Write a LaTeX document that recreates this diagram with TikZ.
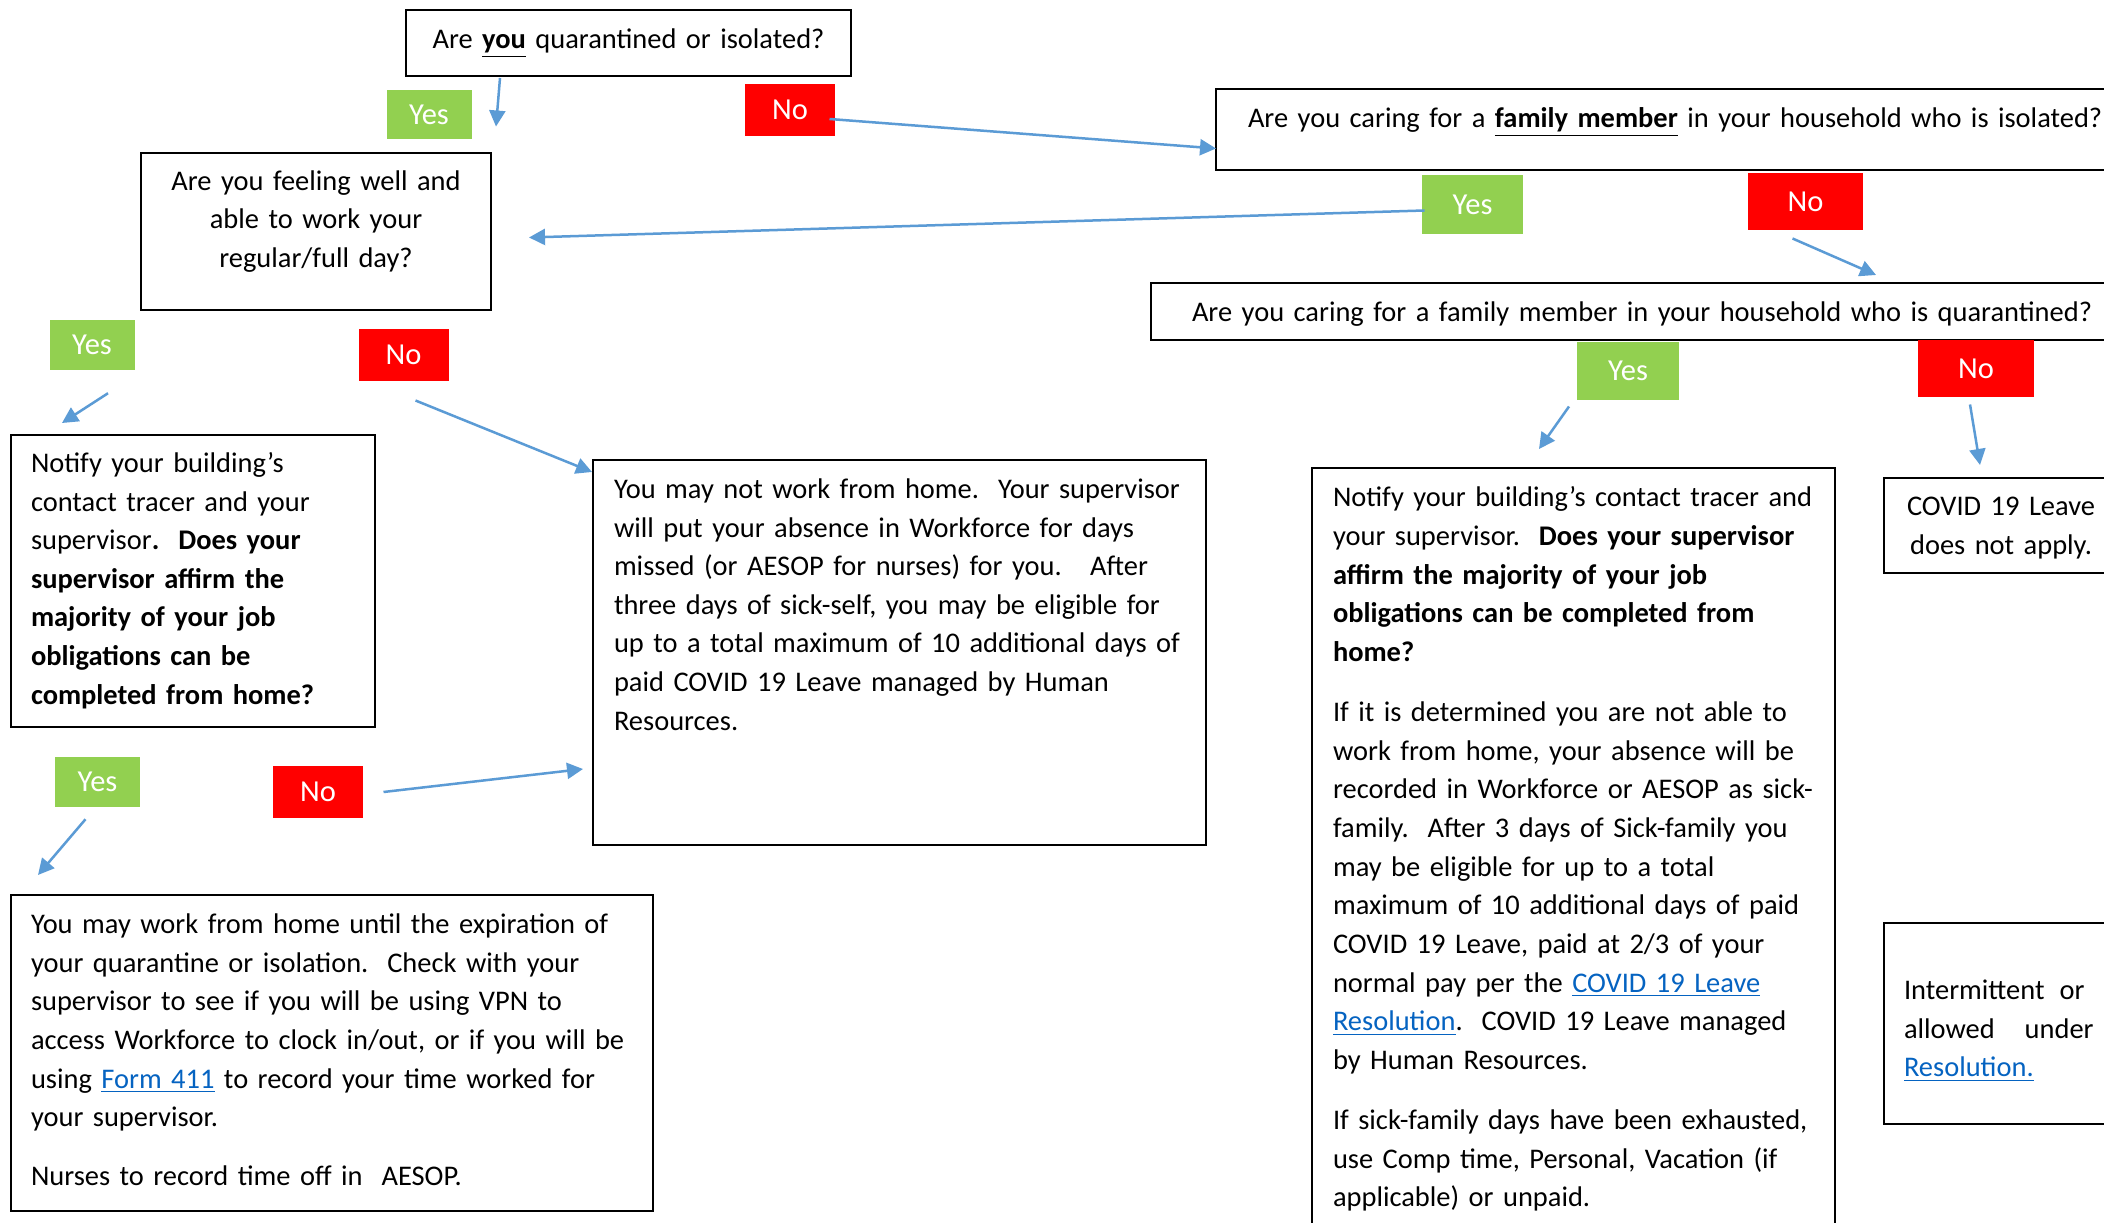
\documentclass[tikz,border=0pt]{standalone}
\usepackage{fontspec}
\setmainfont{Carlito}
\usepackage{xcolor}
\usetikzlibrary{positioning, arrows.meta, calc}
\definecolor{yesgreen}{HTML}{92D050}
\definecolor{nored}{HTML}{FF0000}
\definecolor{arrowblue}{HTML}{5B9BD5}
\definecolor{linkblue}{HTML}{0563C1}
\newcommand{\weblink}[1]{\textcolor{linkblue}{\underline{#1}}}
\frenchspacing

\begin{document}
\begin{tikzpicture}[x=0.4pt, y=-0.4pt,
    qbox/.style={draw, line width=0.8pt, anchor=north west, inner ysep=0pt, align=left,
        font=\fontsize{11.38}{15.45}\selectfont},
    textbox/.style={qbox, execute at begin node={\rightskip=0pt plus 1fill minus 30pt}},
    answer/.style={text=white, inner sep=0pt, font=\fontsize{12.2}{14}\selectfont},
    yeslabel/.style={answer, fill=yesgreen, minimum width=34pt, minimum height=19.8pt},
    nolabel/.style={answer, fill=nored, minimum width=36pt, minimum height=20.8pt},
    arr/.style={draw=arrowblue, line width=1pt, -{Triangle[length=6.4pt, width=6.4pt]}}]
    \useasboundingbox (0,0) rectangle (2104,1223);
    \clip (0,0) rectangle (2104,1223);
    \fill[white] (0,0) rectangle (2104,1223);

    % questions
    \node[qbox, align=center, inner xsep=0pt, text width=178pt, text height=15.6pt, text depth=10.8pt] (you) at (405,9) {Are \underline{\textbf{you}} quarantined or isolated?};
    \node[qbox, inner xsep=12.8pt, text width=348.4pt, text height=15.6pt, text depth=16.8pt] (iso) at (1215,88) {Are you caring for a \underline{\textbf{family member}} in your household who is isolated?};
    \node[qbox, align=center, inner xsep=0pt, text width=140pt, text height=14.9pt, text depth=47.9pt] (well) at (140,152) {Are you feeling well and\\ able to work your\\ regular/full day?};
    \node[qbox, inner xsep=16.4pt, text width=367.2pt, text height=15.4pt, text depth=7.4pt] (quar) at (1150,282) {Are you caring for a family member in your household who is quarantined?};

    % outcomes
    \node[textbox, inner xsep=8pt, text width=129.6pt, text height=15pt, text depth=101.8pt] (notify) at (10,434) {Notify your building’s\\ contact tracer and your\\ supervisor\textbf{.~ Does your}\\ \textbf{supervisor affirm the}\\ \textbf{majority of your job}\\ \textbf{obligations can be}\\ \textbf{completed from home?}};
    \node[textbox, inner xsep=8.4pt, text width=228.4pt, text height=15.4pt, text depth=138.6pt] (nowork) at (592,459) {You may not work from home.~ Your supervisor\\ will put your absence in Workforce for days\\ missed (or AESOP for nurses) for you.~~ After\\ three days of sick-self, you may be eligible for\\ up to a total maximum of 10 additional days of\\ paid COVID 19 Leave managed by Human\\ Resources.};
    \node[textbox, inner xsep=8pt, text width=240.8pt, text height=15.4pt, text depth=111pt] (workhome) at (10,894) {You may work from home until the expiration of\\ your quarantine or isolation.~ Check with your\\ supervisor to see if you will be using VPN to\\ access Workforce to clock in/out, or if you will be\\ using \weblink{Form 411} to record your time worked for\\ your supervisor.\\[8.2pt] Nurses to record time off in~ AESOP.};
    \node[textbox, inner xsep=8.4pt, text width=192.4pt, text height=15.6pt, text depth=293.6pt] (notifyfam) at (1311,467) {Notify your building’s contact tracer and\\ your supervisor.~ \textbf{Does your supervisor}\\ \textbf{affirm the majority of your job}\\ \textbf{obligations can be completed from}\\ \textbf{home?}\\[8.6pt] If it is determined you are not able to\\ work from home, your absence will be\\ recorded in Workforce or AESOP as sick-\\ family.~ After 3 days of Sick-family you\\ may be eligible for up to a total\\ maximum of 10 additional days of paid\\ COVID 19 Leave, paid at 2/3 of your\\ normal pay per the \weblink{COVID 19 Leave}\\ \weblink{Resolution}.~ COVID 19 Leave managed\\ by Human Resources.\\[8.6pt] If sick-family days have been exhausted,\\ use Comp time, Personal, Vacation (if\\ applicable) or unpaid.};
    \node[qbox, align=center, inner xsep=0pt, text width=93.6pt, text height=15pt, text depth=23pt] (noleave) at (1883,477) {COVID 19 Leave\\ does not apply.};
    \node[qbox, inner xsep=8pt, text width=130.8pt, text height=30.6pt, text depth=49.8pt] (intermit) at (1883,922) {Intermittent\hspace*{6pt}or\\ allowed\hspace*{12pt}under\\ \weblink{Resolution.}};

    % answers
    \node[yeslabel] (yesyou) at (429,114.5) {Yes};
    \node[nolabel] (noyou) at (790,110) {No};
    \node[yeslabel, minimum width=40.4pt, minimum height=23.6pt] (yesiso) at (1472.5,204.5) {Yes};
    \node[nolabel, minimum width=46pt, minimum height=22.8pt] (noiso) at (1805.5,201.5) {No};
    \node[yeslabel] (yeswell) at (92,345) {Yes};
    \node[nolabel] (nowell) at (403.5,355) {No};
    \node[yeslabel] (yeshome) at (97.5,782) {Yes};
    \node[nolabel] (nohome) at (318,792) {No};
    \node[yeslabel, minimum width=40.8pt, minimum height=23.2pt] (yesquar) at (1628,371) {Yes};
    \node[nolabel, minimum width=46.4pt, minimum height=22.8pt] (noquar) at (1976,368.5) {No};

    \draw[arr] ($(you.south west)+(95,1)$) -- ($(yesyou.east)+(24,12)$);
    \draw[arr] ($(noyou.east)+(-6,9)$) -- ($(iso.west)+(1,19)$);
    \draw[arr] ($(yesiso.west)+(3,6)$) -- ($(well.east)+(37,6)$);
    \draw[arr] ($(noiso.south)+(-13,8)$) -- ($(quar.north west)+(726,-7)$);
    \draw[arr] ($(yeswell.south)+(16,23)$) -- ($(notify.north west)+(52,-11)$);
    \draw[arr] ($(nowell.south)+(12,19)$) -- ($(nowork.north west)+(0,13)$);
    \draw[arr] ($(yeshome.south)+(-12,12)$) -- ($(workhome.north west)+(28,-19)$);
    \draw[arr] ($(nohome.east)+(20,0)$) -- ($(nowork.south west)+(-9,-77)$);
    \draw[arr] ($(yesquar.south)+(-59,6)$) -- ($(notifyfam.north west)+(228,-18)$);
    \draw[arr] ($(noquar.south)+(-6,7)$) -- ($(noleave.north west)+(97,-12)$);
\end{tikzpicture}
\end{document}
